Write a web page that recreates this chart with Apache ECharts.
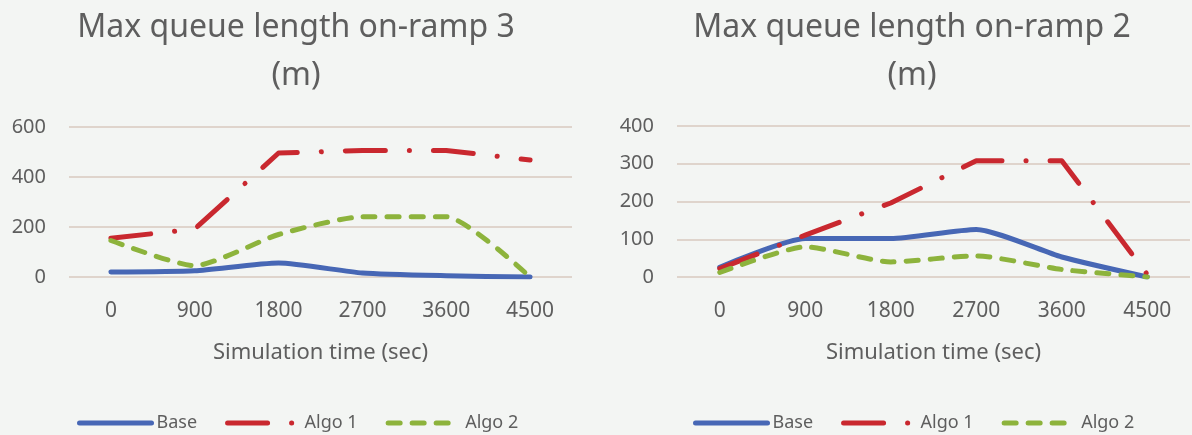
<!DOCTYPE html>
<html>
<head>
<meta charset="utf-8">
<script src="https://cdn.jsdelivr.net/npm/echarts@6/dist/echarts.min.js"></script>
<style>
    html, body { margin: 0; padding: 0; background: #f3f5f3; }
    #chart { width: 1192px; height: 435px; }
</style>
</head>
<body>
<div id="chart"></div>
<script>
// 数据
var categories = ["0", "900", "1800", "2700", "3600", "4500"];
var seriesNames = ["Base", "Algo 1", "Algo 2"];

var ramp3Base = [20, 25, 56, 16, 5, 0];
var ramp3Algo1 = [155, 192, 496, 506, 506, 468];
var ramp3Algo2 = [146, 45, 170, 241, 241, 0];

var ramp2Base = [26, 102, 102, 126, 53, 0];
var ramp2Algo1 = [22, 111, 196, 308, 308, 7];
var ramp2Algo2 = [12, 80, 40, 56, 20, 0];

var titleLeft = "Max queue length on-ramp 3\n(m)";
var titleRight = "Max queue length on-ramp 2\n(m)";
var axisName = "Simulation time (sec)";

var textColor = "#5e5e5e";
var gridColor = "#d8c8bf";
var fontFamily = "Noto Sans";
var colorList = ["#4767b5", "#c9282f", "#8db33c"];

var myChart = echarts.init(document.getElementById("chart"));

function makeX(gridIndex) {
    return {
        type: "category",
        gridIndex: gridIndex,
        data: categories,
        boundaryGap: true,
        name: axisName,
        nameLocation: "middle",
        nameGap: 65,
        nameTextStyle: { color: textColor, fontSize: 22, fontFamily: fontFamily },
        axisLine: { show: false },
        axisTick: { show: false },
        axisLabel: { color: textColor, fontSize: 21, fontFamily: fontFamily, margin: 24, interval: 0 }
    };
}

function makeY(gridIndex, max, interval) {
    return {
        type: "value",
        gridIndex: gridIndex,
        min: 0,
        max: max,
        interval: interval,
        axisLine: { show: false },
        axisTick: { show: false },
        axisLabel: { color: textColor, fontSize: 20, fontFamily: fontFamily, margin: 23 },
        splitLine: { show: true, lineStyle: { color: gridColor, width: 1.5 } }
    };
}

function makeSeries(idx, data, name, color, type, smooth) {
    return {
        name: name,
        type: "line",
        xAxisIndex: idx,
        yAxisIndex: idx,
        data: data,
        smooth: smooth,
        showSymbol: false,
        symbol: "none",
        lineStyle: { color: color, width: 5, type: type, cap: "round", join: "round" },
        itemStyle: { color: color }
    };
}

function makeLegend(left) {
    return {
        left: left,
        top: 409,
        itemWidth: 72,
        itemHeight: 14,
        itemGap: 28,
        data: seriesNames,
        itemStyle: { opacity: 0 },
        lineStyle: { width: 5, cap: "round" },
        textStyle: { color: textColor, fontSize: 18, fontFamily: fontFamily }
    };
}

var dashAlgo1 = [40, 24, 0.1, 24];
var dashAlgo2 = [12, 12];

var option = {
    backgroundColor: "#f3f5f3",
    animation: false,
    graphic: [
        {
            type: "text", x: 296, y: 4,
            style: { text: titleLeft, align: "center", fill: textColor, fontSize: 32, fontFamily: fontFamily, lineHeight: 48 }
        },
        {
            type: "text", x: 912, y: 4,
            style: { text: titleRight, align: "center", fill: textColor, fontSize: 32, fontFamily: fontFamily, lineHeight: 48 }
        }
    ],
    grid: [
        { left: 69, right: 620, top: 127, bottom: 158 },
        { left: 677, right: 2, top: 126, bottom: 158 }
    ],
    legend: [makeLegend(72), makeLegend(688)],
    xAxis: [makeX(0), makeX(1)],
    yAxis: [makeY(0, 600, 200), makeY(1, 400, 100)],
    series: [
        makeSeries(0, ramp3Base, "Base", colorList[0], "solid", 0.2),
        makeSeries(0, ramp3Algo1, "Algo 1", colorList[1], dashAlgo1, false),
        makeSeries(0, ramp3Algo2, "Algo 2", colorList[2], dashAlgo2, 0.2),
        makeSeries(1, ramp2Base, "Base", colorList[0], "solid", 0.2),
        makeSeries(1, ramp2Algo1, "Algo 1", colorList[1], dashAlgo1, false),
        makeSeries(1, ramp2Algo2, "Algo 2", colorList[2], dashAlgo2, 0.2)
    ]
};
myChart.setOption(option);
</script>
</body>
</html>
